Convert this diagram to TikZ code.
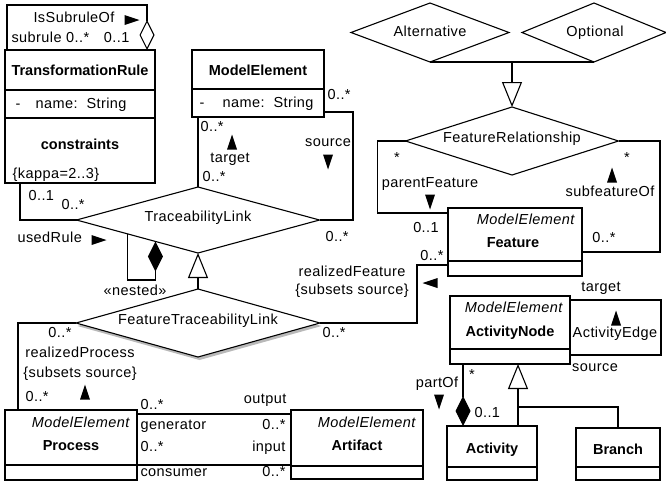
\documentclass[tikz,border=0pt]{standalone}
\usepackage{fontspec}
\setmainfont{Liberation Sans}[LetterSpace=3,BoldFeatures={LetterSpace=0}]
\usetikzlibrary{arrows.meta,shapes.geometric,calc,shadows}
\tikzset{
  dtri/.pic={\fill (7.5,0) -- (-7.5,5) -- (-7.5,-5) -- cycle;},
  txt/.style={font=\fontsize{14.5}{17}\selectfont, inner sep=0pt, text height=10pt, text depth=2pt},
  bft/.style={txt, font=\fontsize{14.5}{17}\selectfont\bfseries},
  itt/.style={txt, font=\fontsize{14.5}{17}\selectfont\itshape},
  box/.style={draw, anchor=north west, inner sep=0pt, outer sep=0pt},
  dia/.style={draw, diamond, inner sep=0pt, outer sep=0pt},
  gen/.style={-{Triangle[open,length=25pt,width=20pt]}},
  comp/.style={-{Diamond[length=30pt,width=15pt]}},
  aggr/.style={-{Diamond[open,length=30pt,width=15pt]}}
}
\begin{document}
\begin{tikzpicture}[x=1pt,y=-1pt,line width=1.1pt]
\useasboundingbox (0,0) rectangle (666,485);

% ---------- TransformationRule ----------
\node[box, minimum width=150pt, minimum height=133pt] (tr) at (5,50) {};
\draw (tr.west |- 0,90) -- (tr.east |- 0,90);
\draw (tr.west |- 0,118) -- (tr.east |- 0,118);
\node[bft] (trn) at (80,71) {TransformationRule};
\node[txt,anchor=west] (trd) at (15,104) {-};
\node[txt,anchor=west] (tra) at (35,104) {name:\ \ String};
\node[bft] (trc) at (80,145) {constraints};
\node[txt,anchor=west] (trk) at (12,174) {\{kappa=2..3\}};

\draw[aggr] ($(tr.north west)+(2,0)$) -- ++(0,-45) -| ($(tr.north east)+(-8,0)$);
\node[txt] (l1) at (74,18) {IsSubruleOf};
\pic at (132,20) {dtri};
\node[txt,anchor=west] (l2) at (11,38) {subrule 0..*};
\node[txt,anchor=east] (l3) at (130,38) {0..1};

% ---------- ModelElement ----------
\node[box, minimum width=132pt, minimum height=67pt] (me) at (192,50) {};
\draw (me.west |- 0,89) -- (me.east |- 0,89);
\node[bft] (men) at (258,71) {ModelElement};
\node[txt,anchor=west] (med) at (199,103) {-};
\node[txt,anchor=west] (mea) at (222,103) {name:\ \ String};

% ---------- TraceabilityLink ----------
\node[dia, minimum width=243pt, minimum height=66pt] (tl) at (198,220) {};
\node[txt] (tlt) at (198,217) {TraceabilityLink};

\draw (tl.north |- me.south) -- (tl.north);
\node[txt,anchor=west] (l4) at (200,127) {0..*};
\pic[rotate=90] at (232,142) {dtri};
\node[txt] (l5) at (230,158) {target};
\node[txt,anchor=west] (l6) at (202,177) {0..*};

\draw ($(me.south east)+(0,-5)$) -- ++(29,0) |- (tl.east);
\node[txt,anchor=west] (l7) at (327,95) {0..*};
\node[txt] (l8) at (328,142) {source};
\pic[rotate=-90] at (328,162) {dtri};
\node[txt,anchor=west] (l9) at (325,237) {0..*};

\draw ($(tr.south west)+(15,0)$) |- (tl.west);
\node[txt,anchor=west] (l10) at (28,196) {0..1};
\node[txt,anchor=west] (l11) at (61,205) {0..*};
\node[txt,anchor=west] (l12) at (17,238) {usedRule};
\pic at (99,240) {dtri};

\coordinate (n1) at ($(tl.west)!0.4167!(tl.south)$);
\coordinate (n2) at ($(tl.west)!0.65!(tl.south)$);
\draw[comp] (n1) -- (n1 |- 0,280) -| (n2);
\node[txt] (l13) at (135,291) {«nested»};

% ---------- FeatureTraceabilityLink ----------
\node[dia, fill=white, drop shadow={shadow xshift=1.5pt, shadow yshift=-3pt, fill=gray!55, opacity=1},
      minimum width=244pt, minimum height=68pt] (ftl) at (198,323) {};
\node[txt] (ftlt) at (198,320) {FeatureTraceabilityLink};
\draw[gen] (ftl.north) -- (tl.south);

% ---------- Process / Artifact ----------
\node[box, minimum width=132pt, minimum height=70pt] (proc) at (5,410) {};
\draw (proc.west |- 0,465) -- (proc.east |- 0,465);
\node[itt,anchor=east] (pme) at (130,423) {ModelElement};
\node[bft] (pn) at (71,446) {Process};

\node[box, minimum width=132pt, minimum height=69pt] (art) at (291,410) {};
\draw (art.west |- 0,466) -- (art.east |- 0,466);
\node[itt,anchor=east] (ame) at (416,423) {ModelElement};
\node[bft] (an1) at (357,446) {Artifact};

\draw (ftl.west) -| ($(proc.north west)+(13,0)$);
\node[txt,anchor=east] (l14) at (72,333) {0..*};
\node[txt] (l15) at (80,353) {realizedProcess};
\node[txt] (l16) at (80,373) {\{subsets source\}};
\pic[rotate=90] at (85,392) {dtri};
\node[txt,anchor=west] (l17) at (25,397) {0..*};

\draw ($(proc.north east)+(0,4)$) -- ($(art.north west)+(0,4)$);
\draw ($(proc.north east)+(0,55)$) -- ($(art.north west)+(0,55)$);
\node[txt,anchor=west] (l18) at (140,405) {0..*};
\node[txt,anchor=east] (l19) at (287,399) {output};
\node[txt,anchor=west] (l20) at (140,425) {generator};
\node[txt,anchor=east] (l21) at (286,425) {0..*};
\node[txt,anchor=west] (l22) at (140,447) {0..*};
\node[txt,anchor=east] (l23) at (286,447) {input};
\node[txt,anchor=west] (l24) at (140,472) {consumer};
\node[txt,anchor=east] (l25) at (286,472) {0..*};

% ---------- Alternative / Optional / FeatureRelationship ----------
\node[dia, minimum width=158pt, minimum height=59pt] (alt) at (430,32.5) {};
\node[txt] (altt) at (430,32) {Alternative};
\node[dia, minimum width=144pt, minimum height=59pt] (opt) at (594,32.5) {};
\node[txt] (optt) at (595,32) {Optional};
\draw (alt.south) -- (opt.south);
\coordinate (gm) at ($(alt.south)!0.5!(opt.south)$);
\node[dia, minimum width=213pt, minimum height=68pt] (fr) at (512,141) {};
\node[txt] (frt) at (512,138) {FeatureRelationship};
\draw[gen] (gm) -- (fr.north);

% ---------- Feature ----------
\node[box, minimum width=134pt, minimum height=68pt] (feat) at (448,208) {};
\draw (feat.west |- 0,261) -- (feat.east |- 0,261);
\node[itt,anchor=east] (fme) at (575,220) {ModelElement};
\node[bft] (fn) at (513,243) {Feature};

\draw (fr.west) -- ++(-28,0) |- ($(feat.north west)+(0,5)$);
\draw (fr.east) -- ++(41.5,0) |- ($(feat.north east)+(0,44)$);
\draw (ftl.east) -| ($(feat.south west)+(-31,-11)$) -- ($(feat.south west)+(0,-11)$);

\node[txt] (l26) at (397,158) {*};
\node[txt] (l27) at (627,158) {*};
\node[txt] (l28) at (430,183) {parentFeature};
\pic[rotate=-90] at (430,202) {dtri};
\node[txt] (l29) at (426,228) {0..1};
\node[txt] (l30) at (432,256) {0..*};
\pic[rotate=90] at (612,175) {dtri};
\node[txt] (l31) at (610,192) {subfeatureOf};
\node[txt] (l32) at (604,238) {0..*};
\node[txt,anchor=west] (l33) at (322,333) {0..*};
\node[txt] (l34) at (352,272) {realizedFeature};
\node[txt] (l35) at (352,290) {\{subsets source\}};
\pic[rotate=180] at (430,283) {dtri};

% ---------- ActivityNode ----------
\node[box, minimum width=120pt, minimum height=68pt] (an) at (450,296) {};
\draw (an.west |- 0,349) -- (an.east |- 0,349);
\node[itt,anchor=east] (anme) at (563,308) {ModelElement};
\node[bft] (ann) at (510,332) {ActivityNode};

\draw ($(an.north east)+(0,4)$) -- ++(91,0) |- ($(an.south east)+(0,-9)$);
\node[txt] (l36) at (601,287) {target};
\pic[rotate=90] at (616,318) {dtri};
\node[txt] (l37) at (615,333) {ActivityEdge};
\node[txt] (l38) at (595,367) {source};

% ---------- Activity / Branch ----------
\node[box, minimum width=90pt, minimum height=54pt] (act) at (447,426) {};
\draw (act.west |- 0,467) -- (act.east |- 0,467);
\node[bft] (actn) at (492,449) {Activity};
\node[box, minimum width=84pt, minimum height=52pt] (br) at (576,428) {};
\draw (br.west |- 0,467) -- (br.east |- 0,467);
\node[bft] (brn) at (618,450) {Branch};

\draw[comp] ($(an.south west)+(13,0)$) -- ($(act.north west)+(16,0)$);
\node[txt] (l39) at (472,375) {*};
\node[txt] (l40) at (437,383) {partOf};
\pic[rotate=-90] at (439,402) {dtri};
\node[txt,anchor=west] (l41) at (474,413) {0..1};

\coordinate (gj) at ($(act.north west)+(71,-19)$);
\draw[gen] ($(act.north west)+(71,0)$) -- ($(an.south west)+(68,0)$);
\draw (br.north) |- (gj);
\end{tikzpicture}
\end{document}
